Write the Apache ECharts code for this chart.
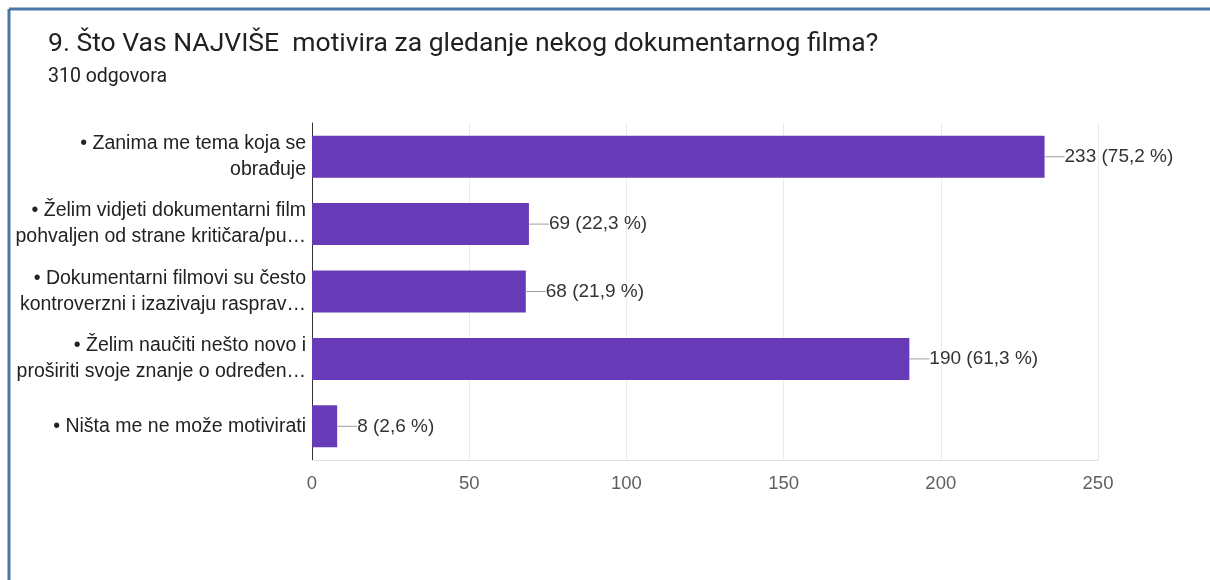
<!DOCTYPE html>
<html>
<head>
<meta charset="utf-8">
<script src="https://cdn.jsdelivr.net/npm/echarts@6/dist/echarts.min.js"></script>
<style>
  html, body { margin: 0; padding: 0; background: #fff; }
  #chart { width: 1210px; height: 580px; }
</style>
</head>
<body>
<div id="chart"></div>
<script>
const categories = [
  '• Zanima me tema koja se\nobrađuje',
  '• Želim vidjeti dokumentarni film\npohvaljen od strane kritičara/pu…',
  '• Dokumentarni filmovi su često\nkontroverzni i izazivaju rasprav…',
  '• Želim naučiti nešto novo i\nproširiti svoje znanje o određen…',
  '• Ništa me ne može motivirati'
];
const counts = [233, 69, 68, 190, 8];
const percents = ['75,2', '22,3', '21,9', '61,3', '2,6'];
const xTicks = [0, 50, 100, 150, 200, 250];

const headFont = 'Roboto, "Noto Sans", sans-serif';
const chartFont = '"Liberation Sans", Arial, sans-serif';
const chart = echarts.init(document.getElementById('chart'));

chart.setOption({
  animation: false,
  textStyle: { fontFamily: chartFont },
  // blue frame on the left and top edges
  graphic: [
    { type: 'line', shape: { x1: 9, y1: 9, x2: 1210, y2: 9 }, style: { stroke: '#4a76a8', lineWidth: 3 } },
    { type: 'line', shape: { x1: 9, y1: 9, x2: 9, y2: 580 }, style: { stroke: '#4a76a8', lineWidth: 3 } }
  ],
  title: [
    {
      text: '9. Što Vas NAJVIŠE  motivira za gledanje nekog dokumentarnog filma?',
      left: 43, top: 26,
      textStyle: { fontSize: 26.5, fontWeight: 'normal', color: '#202124', fontFamily: headFont }
    },
    {
      text: '310 odgovora',
      left: 43, top: 62,
      textStyle: { fontSize: 19.5, fontWeight: 'normal', color: '#202124', fontFamily: headFont }
    }
  ],
  grid: { left: 312, right: 112, top: 123, bottom: 120, containLabel: false },
  xAxis: {
    type: 'value',
    min: xTicks[0],
    max: xTicks[xTicks.length - 1],
    interval: 50,
    axisLine: { show: true, lineStyle: { color: '#e0e0e0' } },
    axisTick: { show: false },
    axisLabel: { fontSize: 18.5, color: '#5f5f5f', margin: 14, fontFamily: chartFont },
    splitLine: { show: true, lineStyle: { color: '#ebebeb' } }
  },
  yAxis: {
    type: 'category',
    inverse: true,
    data: categories,
    axisLine: { show: true, lineStyle: { color: '#333', width: 1 } },
    axisTick: { show: false },
    axisLabel: { fontSize: 19.5, color: '#222', margin: 6, lineHeight: 26, align: 'right', fontFamily: chartFont }
  },
  series: [{
    type: 'bar',
    data: counts,
    barWidth: 42,
    itemStyle: { color: '#673ab7' },
    label: {
      show: true,
      position: 'right',
      distance: 0,
      // short leader line, then "count (percent %)"
      formatter: p => '{l|}{t|' + counts[p.dataIndex] + ' (' + percents[p.dataIndex] + ' %)}',
      rich: {
        l: { width: 20, height: 1, backgroundColor: '#9e9e9e', verticalAlign: 'middle' },
        t: { fontSize: 19, color: '#333', fontFamily: chartFont }
      }
    }
  }]
});
</script>
</body>
</html>
